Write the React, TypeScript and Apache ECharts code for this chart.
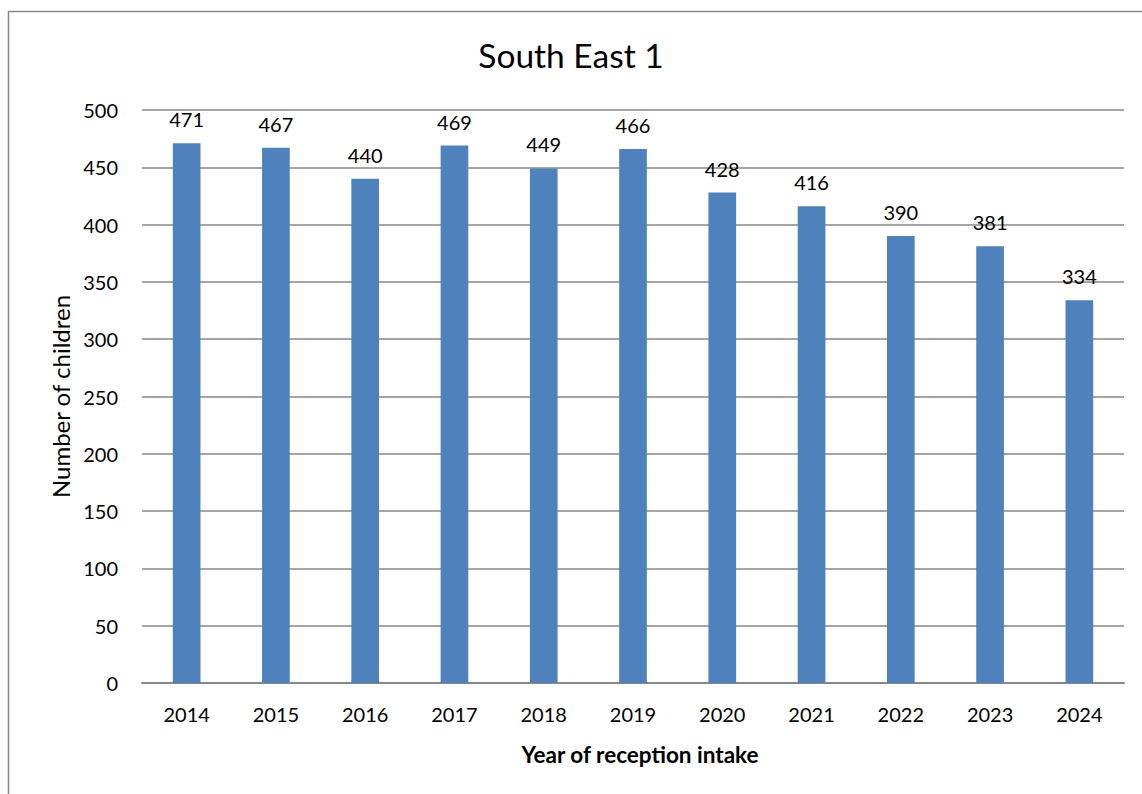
import React, { useEffect, useRef } from "react";
import * as echarts from "echarts";

const years = ["2014", "2015", "2016", "2017", "2018", "2019", "2020", "2021", "2022", "2023", "2024"];
const children = [471, 467, 440, 469, 449, 466, 428, 416, 390, 381, 334];
const titleText = "South East 1";
const yAxisName = "Number of children";
const xAxisName = "Year of reception intake";

const FONT = "Lato, 'Open Sans', sans-serif";

export default function App() {
  const ref = useRef<HTMLDivElement>(null);
  useEffect(() => {
    if (!ref.current) return;
    const chart = echarts.init(ref.current, undefined, { renderer: "svg" });
    chart.setOption({
      animation: false,
      backgroundColor: "#ffffff",
      textStyle: { fontFamily: FONT },
      graphic: [
        {
          type: "rect",
          shape: { x: 8.5, y: 11.5, width: 1300, height: 1000 },
          style: { fill: "none", stroke: "#878787", lineWidth: 1.5 },
          silent: true,
          z: -1,
        },
      ],
      title: {
        text: titleText,
        left: "center",
        top: 33,
        textStyle: { fontFamily: FONT, fontSize: 33.5, fontWeight: "normal", color: "#000" },
      },
      grid: { left: 142, right: 18, top: 110, bottom: 111 },
      xAxis: {
        type: "category",
        data: years,
        name: xAxisName,
        nameLocation: "middle",
        nameGap: 60,
        nameTextStyle: {
          fontFamily: FONT,
          fontSize: 22.5,
          fontWeight: "bold",
          color: "#000",
          padding: [0, 0, 0, 14],
        },
        axisLine: { show: true, lineStyle: { color: "#878787", width: 2 } },
        axisTick: { show: false },
        axisLabel: { fontFamily: FONT, fontSize: 20, color: "#000", margin: 21 },
      },
      yAxis: {
        type: "value",
        min: 0,
        max: 500,
        interval: 50,
        name: yAxisName,
        nameLocation: "middle",
        nameGap: 70,
        nameTextStyle: { fontFamily: FONT, fontSize: 24, color: "#000" },
        axisLine: { show: false },
        axisTick: { show: false },
        axisLabel: { fontFamily: FONT, fontSize: 20, color: "#000", margin: 24 },
        splitLine: { lineStyle: { color: "#878787", width: 1.5 } },
      },
      series: [
        {
          type: "bar",
          data: children,
          barWidth: "31%",
          itemStyle: { color: "#4F81BD" },
          label: {
            show: true,
            position: "top",
            distance: 14,
            fontFamily: FONT,
            fontSize: 20,
            color: "#000",
          },
        },
      ],
    });
    return () => chart.dispose();
  }, []);
  return (
    <div
      ref={ref}
      style={{ position: "absolute", left: 0, top: 0, width: 1142, height: 794 }}
    />
  );
}
